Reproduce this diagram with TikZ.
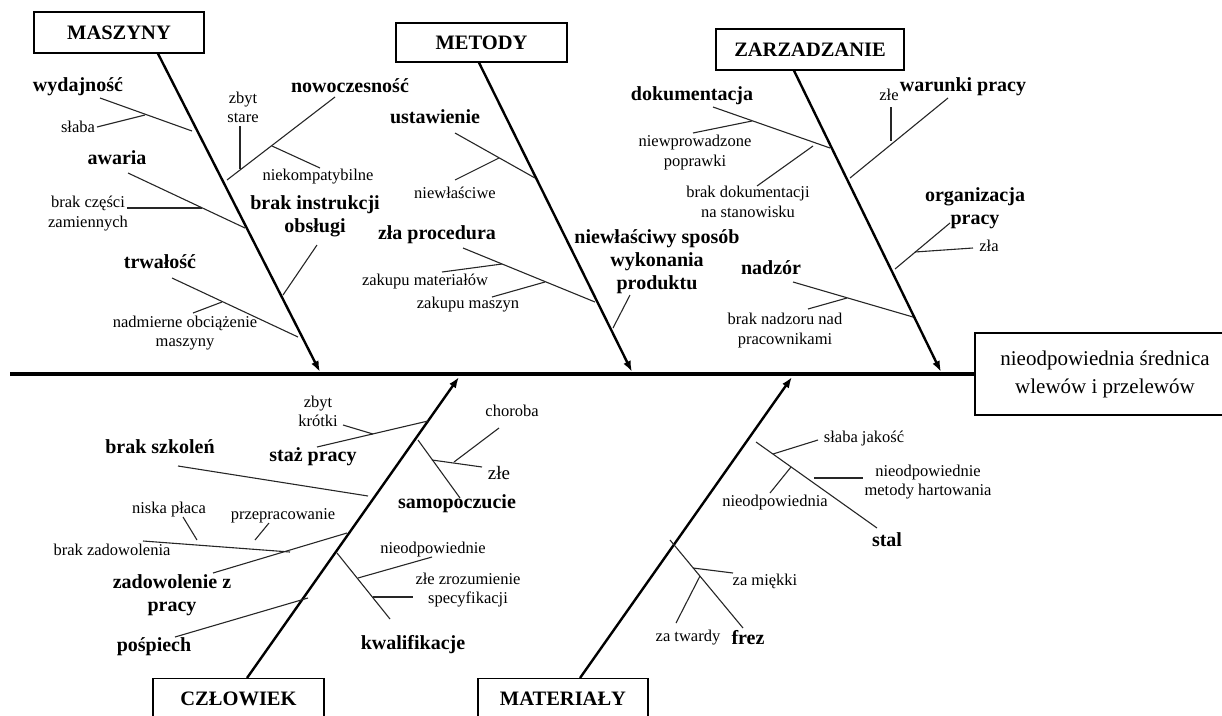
\documentclass[tikz,border=0pt]{standalone}
\usepackage{fontspec}
\setmainfont{Liberation Serif}
\usetikzlibrary{arrows.meta}

\begin{document}
\begin{tikzpicture}[x=1pt,y=-1pt,
  group/.style={draw,line width=1.3pt,inner sep=0pt,font=\fontsize{20.5}{24}\selectfont\bfseries},
  cause/.style={inner sep=0pt,align=center,font=\fontsize{20}{23}\selectfont\bfseries},
  detail/.style={inner sep=0pt,align=center,font=\fontsize{16.5}{19.5}\selectfont},
  bone/.style={line width=2.4pt,-{Latex[length=11pt,width=8pt]}},
  twig/.style={line width=1.1pt,black!85}]
\useasboundingbox (0,0) rectangle (1222,715);

% effect and spine
\node[draw,line width=1.3pt,minimum width=260pt,minimum height=82pt,align=center,
  font=\fontsize{21}{28}\selectfont] (skutek) at (1105,374) {nieodpowiednia średnica\\wlewów i przelewów};
\coordinate (ogon) at (10,374);
\draw[line width=4pt] (ogon) -- (skutek.west);

% category boxes
\node[group,minimum width=170pt,minimum height=41pt] (maszyny) at (119,32.5) {MASZYNY};
\node[group,minimum width=171pt,minimum height=39pt] (metody) at (481.5,42.5) {METODY};
\node[group,minimum width=188pt,minimum height=41pt] (zarzadzanie) at (810,49.5) {ZARZADZANIE};
\node[group,minimum width=171pt,anchor=north,text height=27pt,text depth=25pt] (czlowiek) at (238.5,678) {CZŁOWIEK};
\node[group,minimum width=170pt,anchor=north,text height=27pt,text depth=25pt] (materialy) at (563,678) {MATERIAŁY};

% main bones
\coordinate (k1) at (320,372);
\coordinate (k2) at (632,372);
\coordinate (k3) at (941,372);
\coordinate (k4) at (459,377);
\coordinate (k5) at (792,377);
\draw[bone] ([xshift=39pt]maszyny.south) -- (k1);
\draw[bone] ([xshift=-2.5pt]metody.south) -- (k2);
\draw[bone] ([xshift=-16pt]zarzadzanie.south) -- (k3);
\draw[bone] ([xshift=8.5pt]czlowiek.north) -- (k4);
\draw[bone] ([xshift=17pt]materialy.north) -- (k5);

% small bones
\foreach \n/\ax/\ay/\bx/\by in {
  wyd/100/98/192/131, slaba/97/127/145/115, stare/240/126/240/169,
  nowo/335/97/227/180, niekomp/272/146/320/168, awaria/128/173/245/228,
  czesci/127/208/202/208, instr/317/245/283/295, trwal/172/278/298/337,
  nadm/193/313/222/302,
  ustaw/455/133/535/178, niewl/455/180/499/158, proc/463/248/595/302,
  mater/442/272/502/264, maszyn/492/297/545/282, sposob/630/295/613/328,
  dokum/713/107/830/148, poprawki/693/133/752/121, stanow/757/186/813/146,
  warunki/948/98/850/178, zle/891/107/891/141, organ/950/223/895/269,
  zla/973/248/915/252, nadzor/793/282/913/317, nadzoru/808/309/847/298,
  krotki/343/425/373/434, staz/317/447/428/421, szkol/178/466/368/496,
  placa/183/517/197/540, przepr/269/523/255/540, zadow/143/541/290/552,
  zadpracy/213/573/347/533, pospiech/175/637/308/598,
  choroba/499/428/454/462, zleb/432/460/482/467, samop/418/440/460/498,
  nieodp/432/557/358/578, zrozum/373/597/413/597, kwal/337/553/390/619,
  stal/756/442/877/528, jakosc/818/440/773/454, hartow/814/478/863/478,
  nieodpa/770/493/791/467, frez/670/540/743/628, miekki/693/568/733/573,
  twardy/676/623/700/576}
{
  \coordinate (\n-a) at (\ax,\ay);
  \coordinate (\n-b) at (\bx,\by);
  \draw[twig] (\n-a) -- (\n-b);
}

% labels: maszyny
\node[cause] (l-wyd) at (78,87) {wydajność};
\node[detail] (l-slaba) at (78,127) {słaba};
\node[detail] (l-stare) at (243,107.5) {zbyt\\stare};
\node[cause] (l-nowo) at (350,86) {nowoczesność};
\node[detail] (l-niekomp) at (318,177) {niekompatybilne};
\node[cause] (l-awaria) at (117,158) {awaria};
\node[detail] (l-czesci) at (88,213.5) {brak części\\zamiennych};
\node[cause] (l-instr) at (315,216) {brak instrukcji\\obsługi};
\node[cause] (l-trwal) at (160,262) {trwałość};
\node[detail] (l-nadm) at (185,333) {nadmierne obciążenie\\maszyny};

% labels: metody
\node[cause] (l-ustaw) at (435,117) {ustawienie};
\node[detail] (l-niewl) at (455,193) {niewłaściwe};
\node[cause] (l-proc) at (437,235) {zła procedura};
\node[detail] (l-mater) at (425,282) {zakupu materiałów};
\node[detail] (l-maszyn) at (468,305) {zakupu maszyn};
\node[cause] (l-sposob) at (657,261.5) {niewłaściwy sposób\\wykonania\\produktu};

% labels: zarzadzanie
\node[cause] (l-dokum) at (692,96) {dokumentacja};
\node[detail] (l-poprawki) at (695,152.5) {niewprowadzone\\poprawki};
\node[detail] (l-stanow) at (748,202) {brak dokumentacji\\na stanowisku};
\node[detail] (l-zle) at (889,95) {złe};
\node[cause] (l-warunki) at (963,87) {warunki pracy};
\node[cause] (l-organ) at (975,208) {organizacja\\pracy};
\node[detail] (l-zla) at (989,246) {zła};
\node[cause] (l-nadzor) at (771,268) {nadzór};
\node[detail] (l-nadzoru) at (785,330.5) {brak nadzoru nad\\pracownikami};

% labels: czlowiek
\node[detail] (l-krotki) at (318,411.5) {zbyt\\krótki};
\node[cause] (l-staz) at (313,457) {staż pracy};
\node[cause] (l-szkol) at (160,447) {brak szkoleń};
\node[detail] (l-placa) at (169,510) {niska płaca};
\node[detail] (l-przepr) at (283,516) {przepracowanie};
\node[detail] (l-zadow) at (112,550) {brak zadowolenia};
\node[cause] (l-zadpracy) at (172,595) {zadowolenie z\\pracy};
\node[cause] (l-pospiech) at (154,647) {pośpiech};
\node[detail] (l-choroba) at (512,411) {choroba};
\node[detail,font=\fontsize{19}{22}\selectfont] (l-zleb) at (499,473) {złe};
\node[cause] (l-samop) at (457,504) {samopoczucie};
\node[detail] (l-nieodp) at (433,550) {nieodpowiednie};
\node[detail] (l-zrozum) at (468,590) {złe zrozumienie\\specyfikacji};
\node[cause] (l-kwal) at (413,645) {kwalifikacje};

% labels: materialy
\node[detail] (l-jakosc) at (864,439) {słaba jakość};
\node[detail] (l-hartow) at (928,482) {nieodpowiednie\\metody hartowania};
\node[detail] (l-nieodpa) at (775,503) {nieodpowiednia};
\node[cause] (l-stal) at (887,540) {stal};
\node[detail] (l-miekki) at (765,581) {za miękki};
\node[detail] (l-twardy) at (688,638) {za twardy};
\node[cause] (l-frez) at (748,638) {frez};
\end{tikzpicture}
\end{document}
